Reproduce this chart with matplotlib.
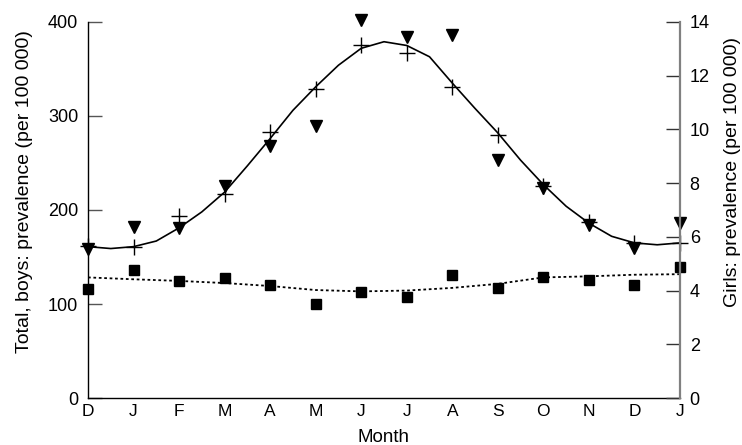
import matplotlib
matplotlib.use("Agg")
import matplotlib.pyplot as plt
import numpy as np

plt.rcParams["font.family"] = ["Liberation Sans", "DejaVu Sans"]

# Month labels (Dec to Jan of the following year)
months = ["D", "J", "F", "M", "A", "M", "J", "J", "A", "S", "O", "N", "D", "J"]

# Total prevalence (+), boys (triangles) on the left axis
total = [162, 161, 194, 217, 283, 329, 375, 367, 331, 280, 226, 187, 165, 165]
boys = [159, 182, 181, 225, 268, 289, 402, 384, 386, 253, 223, 184, 160, 186]

# Girls prevalence (squares) on the right axis
girls = [4.05, 4.75, 4.34, 4.48, 4.19, 3.49, 3.93, 3.76, 4.59, 4.09, 4.50, 4.38, 4.19, 4.86]

# Fitted curves
fit_total_x = np.arange(0, 13.5, 0.5)
fit_total = [161, 159, 161, 167, 181, 198, 219, 247, 276, 306, 331, 354, 372, 379,
             375, 363, 335, 308, 282, 253, 227, 204, 186, 172, 165, 163, 165]
fit_girls = [4.49, 4.42, 4.36, 4.28, 4.17, 4.02, 3.97, 4.00, 4.10, 4.25, 4.49, 4.53, 4.59, 4.61]

x = np.arange(len(months))

fig = plt.figure(figsize=(7.42, 4.45), dpi=100)
ax = fig.add_axes([0.1186, 0.1056, 0.7978, 0.845])
ax2 = ax.twinx()

ax.plot(fit_total_x, fit_total, "-", color="black", linewidth=1.2)
ax.plot(x, total, "+", color="black", markersize=11, markeredgewidth=1.0, clip_on=False)
ax.plot(x, boys, "v", color="black", markersize=8.5, clip_on=False)

ax2.plot(x, fit_girls, color="black", linewidth=1.3, linestyle=(0, (1.5, 1.5)))
ax2.plot(x, girls, "s", color="black", markersize=7, clip_on=False)

ax.set_xlim(0, 13)
ax.set_ylim(0, 400)
ax2.set_ylim(0, 14)

ax.set_xticks(x)
ax.set_xticklabels(months)
ax.set_yticks([0, 100, 200, 300, 400])
ax2.set_yticks([0, 2, 4, 6, 8, 10, 12, 14])

ax.tick_params(axis="x", length=0, pad=4, labelsize=12.5)
ax.tick_params(axis="y", direction="in", length=10, width=1, color="#555555", pad=7, labelsize=13)
ax2.tick_params(axis="y", direction="in", length=10, width=1, color="#333333", pad=7, labelsize=13)

for a in (ax, ax2):
    a.spines["top"].set_visible(False)
ax.spines["right"].set_visible(False)
ax2.spines["left"].set_visible(False)
ax2.spines["bottom"].set_visible(False)
ax2.spines["right"].set_color("#808080")
ax2.spines["right"].set_linewidth(1.6)
ax.spines["left"].set_linewidth(1.0)
ax.spines["bottom"].set_linewidth(1.0)

ax.set_xlabel("Month", fontsize=13.5)
ax.xaxis.set_label_coords(0.5, -0.083)
ax.set_ylabel("Total, boys: prevalence (per 100 000)", fontsize=14)
ax.yaxis.set_label_coords(-0.093, 0.548)
ax2.set_ylabel("Girls: prevalence (per 100 000)", fontsize=14, rotation=90)
ax2.yaxis.set_label_coords(1.074, 0.6)

fig.savefig("out.png", dpi=100)
